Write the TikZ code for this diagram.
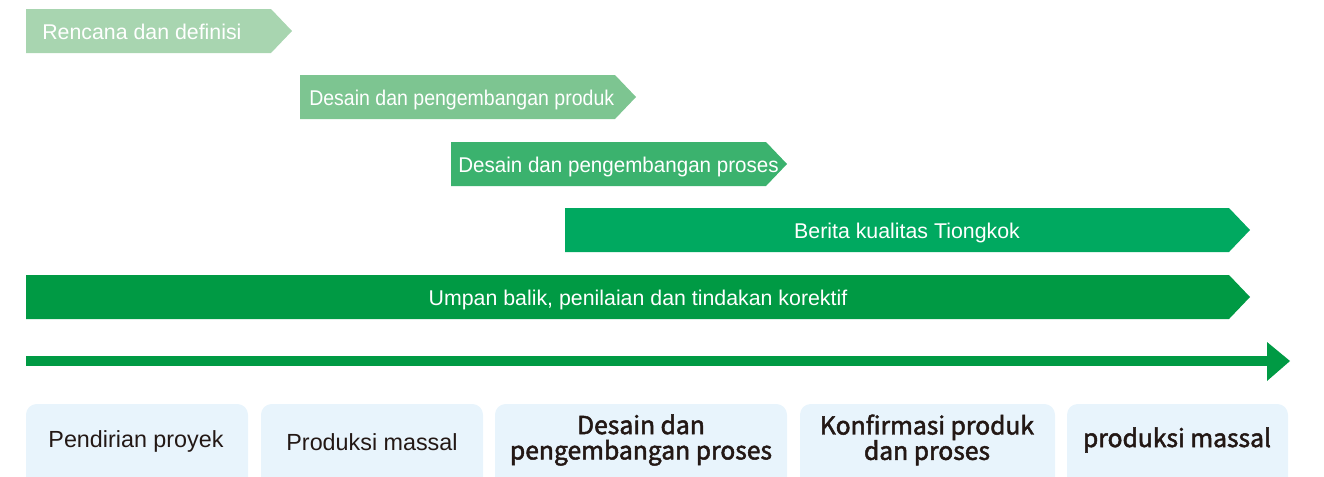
\documentclass[tikz,border=0pt]{standalone}
\usepackage{fontspec}
\setmainfont{Liberation Sans}
\newfontfamily\stagefont{Noto Sans CJK SC}[FakeBold=2]
\definecolor{barA}{HTML}{A8D5B0}
\definecolor{barB}{HTML}{7DC591}
\definecolor{barC}{HTML}{3BB26E}
\definecolor{barD}{HTML}{00A960}
\definecolor{barE}{HTML}{009A44}
\definecolor{stagebg}{HTML}{E8F4FC}
\definecolor{stagetext}{HTML}{231815}
\tikzset{
	bartext/.style={text=white, inner sep=0pt, font=\fontsize{16}{19}\selectfont},
	stagebox/.style={fill=stagebg, rounded corners=8},
	stagelabel/.style={text=stagetext, inner sep=0pt, align=center, font=\fontsize{17.5}{20}\selectfont},
	stagebig/.style={text=stagetext, inner sep=0pt, align=center, font=\stagefont\fontsize{18.5}{19}\selectfont}
}
\begin{document}
\begin{tikzpicture}[x=0.75pt,y=-0.75pt]
					\useasboundingbox (0,0) rectangle (1324,476);
					\clip (0,0) rectangle (1324,476);
					
					% phase bars
					\foreach \xa/\xb/\ya/\col in {26/271/9/barA, 300/615/75/barB, 451/766/142/barC, 565/1229/208/barD, 26/1229/275/barE}{
						\fill[\col] (\xa,\ya) -- (\xb,\ya) -- (\xb+21,\ya+22) -- (\xb,\ya+44) -- (\xa,\ya+44) -- cycle;
					}
					\node[bartext, anchor=base west] (plan) at (42,39) {Rencana dan definisi};
					\node[bartext, anchor=base west] (produk) at (309,105) {\addfontfeature{FakeStretch=0.915}Desain dan pengembangan produk};
					\node[bartext, anchor=base west] (proses) at (458,172) {\addfontfeature{FakeStretch=0.965}Desain dan pengembangan proses};
					\node[bartext, anchor=base] (berita) at (907,238) {Berita kualitas Tiongkok};
					\node[bartext, anchor=base] (umpan) at (638,305) {Umpan balik, penilaian dan tindakan korektif};
					
					% time axis
					\fill[barE] (26,356) rectangle (1268,366);
					\fill[barE] (1267,342) -- (1290,361) -- (1267,381) -- cycle;
					
					% stages
					\foreach \xa/\xb in {26/248, 261/483, 495/787, 800/1055, 1067/1288}{
						\fill[stagebox] (\xa,404) rectangle (\xb,490);
					}
					\node[stagelabel] (pendirian) at (136,441) {Pendirian proyek};
					\node[stagelabel] (massal) at (372,442) {Produksi massal};
					\node[stagebig] (desain) at (641,440) {Desain dan\\pengembangan proses};
					\node[stagebig] (konfirmasi) at (927,440) {Konfirmasi produk\\dan proses};
					\node[stagebig] (produksi) at (1177,440) {produksi massal};
					
				\end{tikzpicture}
\end{document}
